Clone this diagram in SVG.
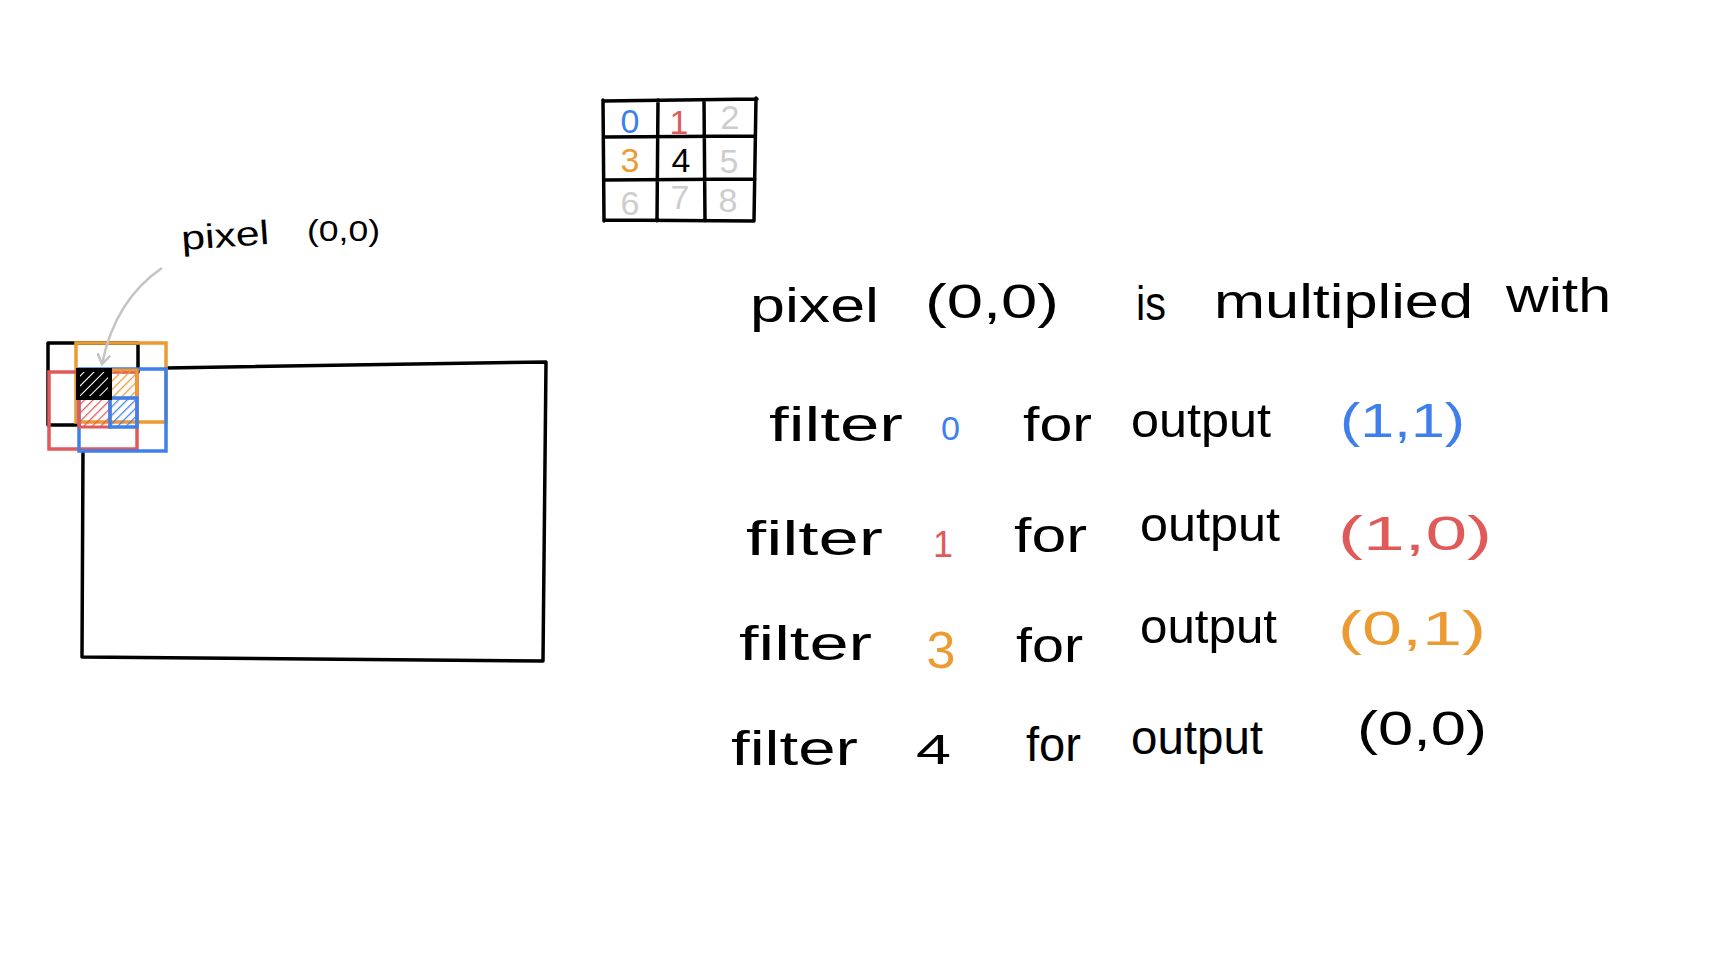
<svg xmlns="http://www.w3.org/2000/svg" width="1730" height="970" viewBox="0 0 1730 970">
<style>
.ln{fill:none;stroke:#000;stroke-width:3.5;stroke-linecap:round;stroke-linejoin:round}
.t{font-family:"Liberation Sans",Arial,sans-serif;fill:#000}
.w{font-size:48px}
.g{font-size:34px;text-anchor:middle}
.blue{fill:#3f7fec}.red{fill:#e15a5a}.orange{fill:#ec9b32}.gray{fill:#cdcdcd}
</style>
<defs>
<pattern id="hk" width="7" height="7" patternUnits="userSpaceOnUse" patternTransform="rotate(45)"><rect width="7" height="7" fill="#000"/><line x1="0" y1="0" x2="0" y2="7" stroke="#fff" stroke-width="2"/></pattern>
<pattern id="ho" width="6" height="6" patternUnits="userSpaceOnUse" patternTransform="rotate(45)"><line x1="0" y1="0" x2="0" y2="6" stroke="#ec9b32" stroke-width="2.5"/></pattern>
<pattern id="hr" width="6" height="6" patternUnits="userSpaceOnUse" patternTransform="rotate(45)"><line x1="0" y1="0" x2="0" y2="6" stroke="#e15a5a" stroke-width="2.5"/></pattern>
<pattern id="hb" width="6" height="6" patternUnits="userSpaceOnUse" patternTransform="rotate(45)"><line x1="0" y1="0" x2="0" y2="6" stroke="#3f7fec" stroke-width="2.5"/></pattern>
<marker id="ah" markerWidth="14" markerHeight="14" refX="10" refY="7" orient="auto" markerUnits="userSpaceOnUse"><path d="M1,1 L10,7 L1,13" fill="none" stroke="#c4c4c4" stroke-width="2.5" stroke-linecap="round"/></marker>
</defs>
<rect width="1730" height="970" fill="#fff"/>

<g id="kernel-grid">
<path class="ln" d="M603,101 L757,99 M604,137 L755,136 M604,180 L755,179 M604,220 L754,221 M603,100 L604,221 M658,100 L657,221 M704,100 L705,221 M756,98 L754,221"/>
<text class="t g blue" x="630" y="133">0</text>
<text class="t g red" x="679" y="134">1</text>
<text class="t g gray" x="730" y="129">2</text>
<text class="t g orange" x="630" y="172">3</text>
<text class="t g" x="681" y="172">4</text>
<text class="t g gray" x="729" y="173">5</text>
<text class="t g gray" x="630" y="215">6</text>
<text class="t g gray" x="680" y="209">7</text>
<text class="t g gray" x="728" y="212">8</text>
</g>

<g id="image">
<path class="ln" d="M166,368 L546,362 L543,661 L82,657 L83,450"/>
</g>

<g id="pixel-neighbourhood">
<path class="ln" d="M138,372 L138,343 L48,343 L48,425 L79,425"/>
<rect x="76" y="343" width="90" height="79" fill="none" stroke="#ec9b32" stroke-width="3.5"/>
<rect x="49" y="372" width="88" height="77" fill="none" stroke="#e15a5a" stroke-width="3.5"/>
<rect x="79" y="369" width="87" height="82" fill="none" stroke="#3f7fec" stroke-width="3.5"/>
<rect x="110" y="370" width="27" height="28" fill="url(#ho)" stroke="#ec9b32" stroke-width="3"/>
<rect x="79" y="398" width="31" height="29" fill="url(#hr)" stroke="#e15a5a" stroke-width="3"/>
<rect x="110" y="398" width="27" height="29" fill="url(#hb)" stroke="#3f7fec" stroke-width="3.5"/>
<rect x="78" y="370" width="32" height="28" fill="url(#hk)" stroke="#000" stroke-width="4"/>
</g>

<g id="connectors">
<path d="M162,268 Q115,300 102,364" fill="none" stroke="#c4c4c4" stroke-width="2.5" marker-end="url(#ah)"/>
</g>

<g id="pixel-label">
<text class="t" font-size="34" x="182" y="250" textLength="88" lengthAdjust="spacingAndGlyphs" transform="rotate(-4 182 250)">pixel</text>
<text class="t" font-size="30" x="307" y="241" textLength="73" lengthAdjust="spacingAndGlyphs">(0,0)</text>
</g>

<g id="sentence">
<text class="t w" x="750" y="322" textLength="129" lengthAdjust="spacingAndGlyphs">pixel</text>
<text class="t w" x="925" y="318" textLength="134" lengthAdjust="spacingAndGlyphs">(0,0)</text>
<text class="t w" x="1136" y="320" textLength="30" lengthAdjust="spacingAndGlyphs">is</text>
<text class="t w" x="1214" y="318" textLength="259" lengthAdjust="spacingAndGlyphs">multiplied</text>
<text class="t w" x="1506" y="312" textLength="105" lengthAdjust="spacingAndGlyphs">with</text>
</g>

<g id="row-filter-0">
<text class="t w" x="769" y="441" textLength="134" lengthAdjust="spacingAndGlyphs">filter</text>
<text class="t blue" font-size="34" x="941" y="440" textLength="19" lengthAdjust="spacingAndGlyphs">0</text>
<text class="t w" x="1023" y="441" textLength="69" lengthAdjust="spacingAndGlyphs">for</text>
<text class="t w" x="1131" y="437" textLength="140" lengthAdjust="spacingAndGlyphs">output</text>
<text class="t w blue" x="1340" y="437" textLength="125" lengthAdjust="spacingAndGlyphs">(1,1)</text>
</g>

<g id="row-filter-1">
<text class="t w" x="746" y="555" textLength="137" lengthAdjust="spacingAndGlyphs">filter</text>
<text class="t red" font-size="36" x="943" y="557" text-anchor="middle">1</text>
<text class="t w" x="1014" y="552" textLength="73" lengthAdjust="spacingAndGlyphs">for</text>
<text class="t w" x="1140" y="541" textLength="140" lengthAdjust="spacingAndGlyphs">output</text>
<text class="t w red" x="1338" y="550" textLength="154" lengthAdjust="spacingAndGlyphs">(1,0)</text>
</g>

<g id="row-filter-3">
<text class="t w" x="739" y="660" textLength="133" lengthAdjust="spacingAndGlyphs">filter</text>
<text class="t orange" font-size="52" x="941" y="668" text-anchor="middle">3</text>
<text class="t w" x="1016" y="662" textLength="67" lengthAdjust="spacingAndGlyphs">for</text>
<text class="t w" x="1140" y="643" textLength="137" lengthAdjust="spacingAndGlyphs">output</text>
<text class="t w orange" x="1338" y="645" textLength="148" lengthAdjust="spacingAndGlyphs">(0,1)</text>
</g>

<g id="row-filter-4">
<text class="t w" x="731" y="765" textLength="127" lengthAdjust="spacingAndGlyphs">filter</text>
<text class="t" font-size="42" x="916" y="764" textLength="35" lengthAdjust="spacingAndGlyphs">4</text>
<text class="t w" x="1026" y="761" textLength="55" lengthAdjust="spacingAndGlyphs">for</text>
<text class="t w" x="1131" y="754" textLength="132" lengthAdjust="spacingAndGlyphs">output</text>
<text class="t w" x="1357" y="745" textLength="130" lengthAdjust="spacingAndGlyphs">(0,0)</text>
</g>
</svg>
